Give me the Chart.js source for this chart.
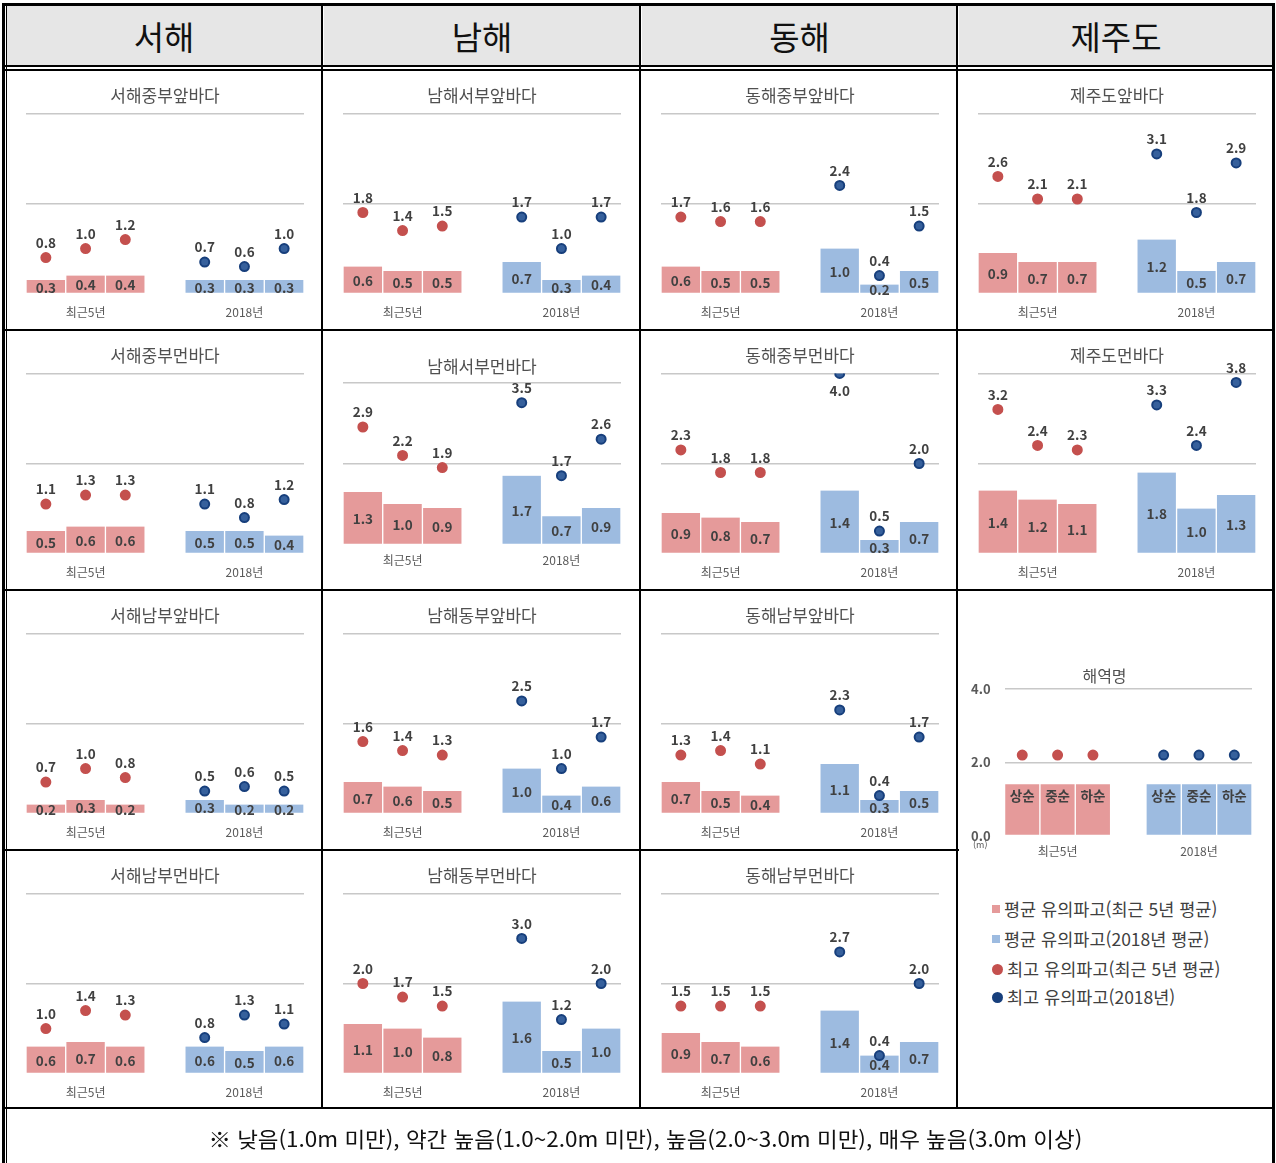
<!DOCTYPE html>
<html lang="ko">
<head>
<meta charset="utf-8">
<title>해역별 유의파고</title>
<script src="https://cdn.jsdelivr.net/npm/chart.js@4.4.1/dist/chart.umd.min.js"></script>
<style>
  body { margin: 0; background: #fff; }
  #page { position: relative; width: 1276px; height: 1163px; overflow: hidden; font-family: 'Noto Sans CJK KR', sans-serif; }
  #page canvas { position: absolute; }
  .line { position: absolute; background: #000; }
  .head { position: absolute; top: 6px; height: 60px; line-height: 60px; text-align: center; font-size: 33px; color: #111; background: #e6e6e6; }
  #note { position: absolute; left: 0; width: 1276px; top: 1124px; text-align: center; white-space: nowrap; }
  #note span { display: inline-block; font-size: 21px; line-height: 28px; color: #111; transform-origin: center; }
  .key { position: absolute; left: 992px; font-size: 17.5px; color: #404040; line-height: 20px; white-space: nowrap; }
  .key i { display: inline-block; vertical-align: middle; margin-right: 4px; position: relative; top: -2px; }
  .unit { position: absolute; left: 973px; top: 838px; font-size: 9px; color: #595959; }
</style>
</head>
<body>
<div id="page"></div>
<script>
// ---- data ----
const seas = ['서해', '남해', '동해', '제주도'];
const periods = ['최근5년', '2018년'];
const dekads = ['상순', '중순', '하순'];

const areaNames = [
  '서해중부앞바다', '남해서부앞바다', '동해중부앞바다', '제주도앞바다',
  '서해중부먼바다', '남해서부먼바다', '동해중부먼바다', '제주도먼바다',
  '서해남부앞바다', '남해동부앞바다', '동해남부앞바다',
  '서해남부먼바다', '남해동부먼바다', '동해남부먼바다'
];
// 평균 유의파고 (m) - 상순, 중순, 하순
const avgRecent = [
  [0.3, 0.4, 0.4], [0.6, 0.5, 0.5], [0.6, 0.5, 0.5], [0.9, 0.7, 0.7],
  [0.5, 0.6, 0.6], [1.3, 1.0, 0.9], [0.9, 0.8, 0.7], [1.4, 1.2, 1.1],
  [0.2, 0.3, 0.2], [0.7, 0.6, 0.5], [0.7, 0.5, 0.4],
  [0.6, 0.7, 0.6], [1.1, 1.0, 0.8], [0.9, 0.7, 0.6]
];
const avg2018 = [
  [0.3, 0.3, 0.3], [0.7, 0.3, 0.4], [1.0, 0.2, 0.5], [1.2, 0.5, 0.7],
  [0.5, 0.5, 0.4], [1.7, 0.7, 0.9], [1.4, 0.3, 0.7], [1.8, 1.0, 1.3],
  [0.3, 0.2, 0.2], [1.0, 0.4, 0.6], [1.1, 0.3, 0.5],
  [0.6, 0.5, 0.6], [1.6, 0.5, 1.0], [1.4, 0.4, 0.7]
];
// 최고 유의파고 (m)
const maxRecent = [
  [0.8, 1.0, 1.2], [1.8, 1.4, 1.5], [1.7, 1.6, 1.6], [2.6, 2.1, 2.1],
  [1.1, 1.3, 1.3], [2.9, 2.2, 1.9], [2.3, 1.8, 1.8], [3.2, 2.4, 2.3],
  [0.7, 1.0, 0.8], [1.6, 1.4, 1.3], [1.3, 1.4, 1.1],
  [1.0, 1.4, 1.3], [2.0, 1.7, 1.5], [1.5, 1.5, 1.5]
];
const max2018 = [
  [0.7, 0.6, 1.0], [1.7, 1.0, 1.7], [2.4, 0.4, 1.5], [3.1, 1.8, 2.9],
  [1.1, 0.8, 1.2], [3.5, 1.7, 2.6], [4.0, 0.5, 2.0], [3.3, 2.4, 3.8],
  [0.5, 0.6, 0.5], [2.5, 1.0, 1.7], [2.3, 0.4, 1.7],
  [0.8, 1.3, 1.1], [3.0, 1.2, 2.0], [2.7, 0.4, 2.0]
];
// 범례용 예시 막대/점
const sampleAvg = [1.4, 1.4, 1.4];
const sampleMax = [2.2, 2.2, 2.2];
const yTicks = [0, 2, 4];

// ---- layout ----
const colX = [5, 322, 640, 957];
const rowY = [70, 330, 590, 850];
const cellSlot = [
  [0, 0], [0, 1], [0, 2], [0, 3],
  [1, 0], [1, 1], [1, 2], [1, 3],
  [2, 0], [2, 1], [2, 2],
  [3, 0], [3, 1], [3, 2]
];
const FONT = "'Noto Sans CJK KR', sans-serif";
const RED_BAR = '#e59a9a', BLUE_BAR = '#9dbbe0';
const RED_DOT = '#c4504e', BLUE_DOT = '#173f7c', BLUE_DOT_IN = '#36609c';

const page = document.getElementById('page');

function slots(a, b) { return [...a, null, ...b]; }
function colors(a, b) { return [a, a, a, 'rgba(0,0,0,0)', b, b, b]; }

// 막대 안/점 위 값 표시
const valueLabels = {
  id: 'valueLabels',
  afterDatasetsDraw(chart) {
    const { ctx } = chart;
    const yMax = chart.scales.y.max;
    ctx.save();
    ctx.textAlign = 'center';
    ctx.textBaseline = 'middle';
    ctx.fillStyle = '#404040';
    ctx.font = 'bold 13.5px ' + FONT;
    chart.data.datasets.forEach((ds, di) => {
      if (ds.labelMode === 'none') return;
      const meta = chart.getDatasetMeta(di);
      meta.data.forEach((el, i) => {
        const v = ds.data[i];
        if (v == null) return;
        if (ds.type === 'bar') {
          if (ds.labelMode === 'dekad') {
            ctx.fillText(dekads[i % 4], el.x, el.y + 12);
          } else {
            ctx.fillText(v.toFixed(1), el.x, (el.y + el.base) / 2 + 1);
          }
        } else {
          const y = v >= yMax ? el.y + 17 : el.y - 15;
          ctx.fillText(v.toFixed(1), el.x, y);
        }
      });
    });
    ctx.restore();
  }
};

function makeChart(left, top, w, h, cfg) {
  const cv = document.createElement('canvas');
  cv.width = w; cv.height = h;
  cv.style.left = left + 'px'; cv.style.top = top + 'px';
  cv.style.width = w + 'px'; cv.style.height = h + 'px';
  page.appendChild(cv);

  return new Chart(cv, {
    type: 'bar',
    data: {
      labels: slots(dekads, dekads),
      datasets: [
        {
          type: 'line',
          data: slots(cfg.maxA, cfg.maxB),
          showLine: false,
          pointRadius: 4.5,
          pointBackgroundColor: colors(RED_DOT, BLUE_DOT_IN),
          pointBorderColor: colors(RED_DOT, BLUE_DOT),
          pointBorderWidth: 2,
          order: 1,
          labelMode: cfg.dotLabels
        },
        {
          type: 'bar',
          data: slots(cfg.avgA, cfg.avgB),
          backgroundColor: colors(RED_BAR, BLUE_BAR),
          borderColor: '#ffffff',
          borderWidth: { left: 1, right: 1, top: 0, bottom: 0 },
          barPercentage: 1,
          categoryPercentage: 1,
          order: 2,
          labelMode: cfg.barLabels
        }
      ]
    },
    options: {
      responsive: false,
      animation: false,
      events: [],
      layout: { padding: cfg.padding },
      plugins: {
        legend: { display: false },
        tooltip: { enabled: false },
        title: {
          display: true,
          text: cfg.title,
          color: '#505050',
          font: { family: FONT, size: cfg.titleSize, weight: 'normal' },
          padding: cfg.titlePad
        }
      },
      scales: {
        x: {
          grid: { display: false, drawTicks: false },
          border: { display: false },
          ticks: {
            autoSkip: false, maxRotation: 0, padding: cfg.tickPad,
            color: '#595959', font: { family: FONT, size: 12 },
            callback: (v, i) => i === 1 ? periods[0] : (i === 5 ? periods[1] : '')
          }
        },
        y: {
          min: yTicks[0], max: yTicks[yTicks.length - 1],
          border: { display: false },
          grid: {
            drawTicks: false, lineWidth: 1.5,
            color: c => c.tick.value === 0 ? 'rgba(0,0,0,0)' : '#c8c8c8'
          },
          ticks: {
            stepSize: yTicks[1] - yTicks[0],
            display: cfg.showY,
            padding: 14,
            color: '#595959',
            font: { family: FONT, size: 13, weight: 'bold' },
            callback: v => v.toFixed(1)
          }
        }
      }
    },
    plugins: [valueLabels]
  });
}

// 해역별 차트
areaNames.forEach((name, k) => {
  const [r, c] = cellSlot[k];
  const tall = name === '남해서부먼바다';
  makeChart(colX[c], rowY[r], 317, 260, {
    title: name,
    titleSize: 17,
    titlePad: tall ? { top: 26, bottom: 6 } : { top: 15, bottom: 8 },
    padding: tall ? { left: 21, right: 18, top: 0, bottom: 13 } : { left: 21, right: 18, top: 0, bottom: -2 },
    tickPad: tall ? 9 : 12,
    avgA: avgRecent[k], avgB: avg2018[k],
    maxA: maxRecent[k], maxB: max2018[k],
    barLabels: 'value', dotLabels: 'value',
    showY: false
  });
});

// 범례용 예시 차트
makeChart(colX[3], rowY[2], 317, 280, {
  title: '해역명',
  titleSize: 16,
  titlePad: { top: 76, bottom: 4 },
  padding: { left: 0, right: 22, top: 0, bottom: 2 },
  tickPad: 9,
  avgA: sampleAvg, avgB: sampleAvg,
  maxA: sampleMax, maxB: sampleMax,
  barLabels: 'dekad', dotLabels: 'none',
  showY: true
});

// ---- 표 테두리와 머리글 ----
function line(x, y, w, h) {
  const d = document.createElement('div');
  d.className = 'line';
  Object.assign(d.style, { left: x + 'px', top: y + 'px', width: w + 'px', height: h + 'px' });
  page.appendChild(d);
}
const edges = [4, 322, 640, 957, 1273];
seas.forEach((s, i) => {
  const d = document.createElement('div');
  d.className = 'head';
  d.textContent = s;
  d.style.left = (edges[i] + 2) + 'px';
  d.style.width = (edges[i + 1] - edges[i] - 2) + 'px';
  page.appendChild(d);
});
line(2, 3, 1273, 3);          // 위
line(2, 3, 3, 1160);          // 왼쪽
line(6, 6, 1, 1157);
line(1272, 3, 3, 1160);       // 오른쪽
line(2, 65, 1273, 2);         // 머리글 아래 이중선
line(2, 69, 1273, 2);
[322, 640, 957].forEach(x => line(x - 1, 3, 2, 1106));
[330, 590].forEach(y => line(2, y - 1, 1273, 2));
line(2, 850 - 1, 957, 2);     // 범례 칸은 두 줄 병합
line(2, 1107, 1273, 2);

// ---- 범례 ----
const unit = document.createElement('div');
unit.className = 'unit';
unit.textContent = '(m)';
page.appendChild(unit);

const keys = [
  { y: 899, mark: 'sq', color: RED_BAR, text: '평균 유의파고(최근 5년 평균)' },
  { y: 929, mark: 'sq', color: BLUE_BAR, text: '평균 유의파고(2018년 평균)' },
  { y: 959, mark: 'dot', color: RED_DOT, text: '최고 유의파고(최근 5년 평균)' },
  { y: 987, mark: 'dot', color: BLUE_DOT, text: '최고 유의파고(2018년)' }
];
keys.forEach(k => {
  const d = document.createElement('div');
  d.className = 'key';
  d.style.top = k.y + 'px';
  const m = document.createElement('i');
  if (k.mark === 'sq') {
    Object.assign(m.style, { width: '8px', height: '8px', background: k.color });
  } else {
    Object.assign(m.style, { width: '11px', height: '11px', borderRadius: '50%', background: k.color });
  }
  d.appendChild(m);
  d.appendChild(document.createTextNode(k.text));
  page.appendChild(d);
});

// ---- 주석 ----
const note = document.createElement('div');
note.id = 'note';
const ns = document.createElement('span');
ns.textContent = '※ 낮음(1.0m 미만), 약간 높음(1.0~2.0m 미만), 높음(2.0~3.0m 미만), 매우 높음(3.0m 이상)';
note.appendChild(ns);
page.appendChild(note);
const nw = ns.getBoundingClientRect().width;
ns.style.transform = 'scaleX(' + (874 / nw).toFixed(3) + ')';
note.style.left = (645 - 638) + 'px';
</script>
</body>
</html>
